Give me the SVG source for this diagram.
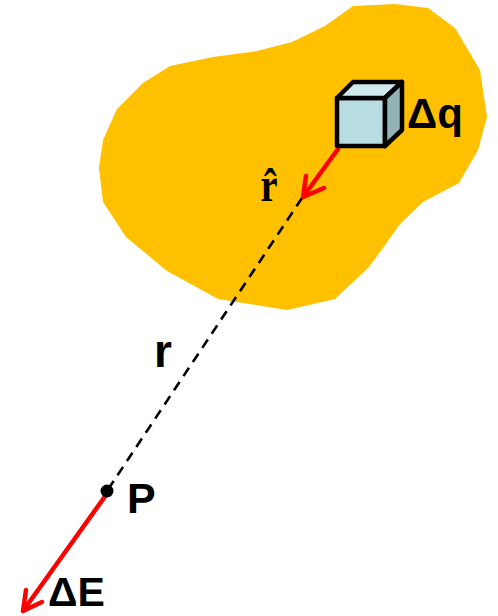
<svg xmlns="http://www.w3.org/2000/svg" width="498" height="616" viewBox="0 0 498 616">
<style>
.lbl{font-family:"Liberation Sans",Arial,sans-serif;font-weight:bold;fill:#000}
.serif{font-family:"Liberation Serif","Times New Roman",serif;font-weight:bold;fill:#000}
.red{fill:none;stroke:#ff0000;stroke-width:4.5;stroke-linecap:round;stroke-linejoin:round}
.edge{stroke:#000;stroke-width:4.5;stroke-linejoin:round}
</style>
<g id="charge-body">
<polygon fill="#ffc000" points="353,6 395,4 428,8 455,28 480,70 487,117 478,150 459,183 423,202 400,224 383,248 368,268 335,299 287,310 218,299 167,271 126,237 103,202 99,168 103,140 117,109 143,83 170,66 213,57 257,51 292,42 325,26"/>
</g>
<g id="connectors">
<line x1="302" y1="198" x2="107" y2="491" stroke="#000" stroke-width="2.6" stroke-dasharray="10,7"/>
<path class="red" d="M338,149 L303,197 M306,176 L303,197 L324,188"/>
<path class="red" d="M106,495 L23,611 M26,590 L23,611 L42,602"/>
</g>
<g id="cube">
<polygon class="edge" fill="#b7dde2" points="337,98 385,98 385,146 337,146"/>
<polygon class="edge" fill="#cfe9ec" points="337,98 353,82 402,82 385,98"/>
<polygon class="edge" fill="#93b3b7" points="385,98 402,82 402,130 385,146"/>
<text class="lbl" x="407" y="128" font-size="42">Δq</text>
</g>
<g id="rhat">
<text class="serif" transform="translate(269,201) scale(0.8,1)" font-size="48" text-anchor="middle">r̂</text>
</g>
<g id="r-label">
<text class="lbl" x="154" y="367" font-size="46">r</text>
</g>
<g id="point-P">
<circle cx="107" cy="491" r="6.5" fill="#000"/>
<text class="lbl" x="127" y="513" font-size="43">P</text>
</g>
<g id="delta-E">
<text class="lbl" x="48" y="606" font-size="41">ΔE</text>
</g>
</svg>
